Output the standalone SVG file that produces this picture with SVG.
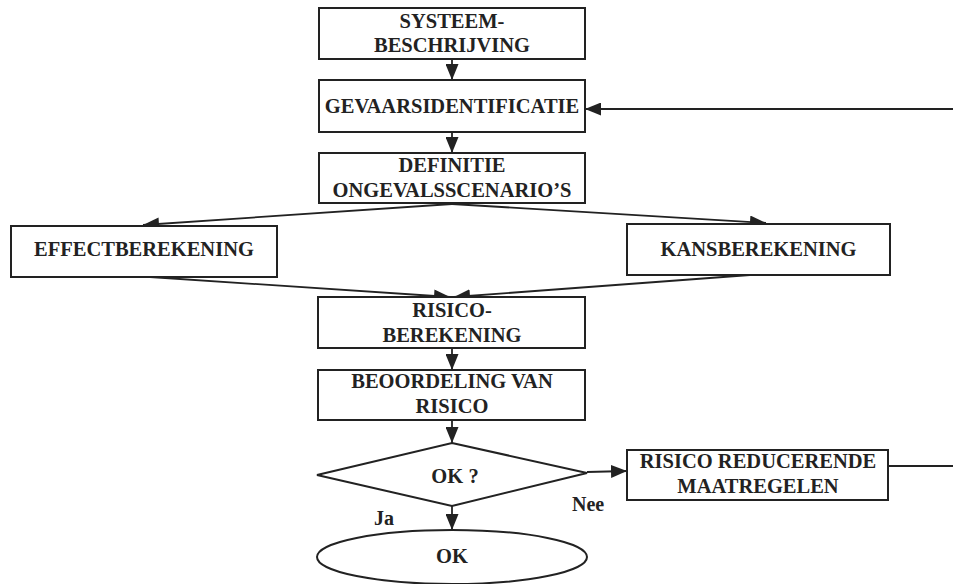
<svg xmlns="http://www.w3.org/2000/svg" width="953" height="584" viewBox="0 0 953 584">
<defs>
<style>
.box{fill:#fff;stroke:#222;stroke-width:2}
.t{font-family:"Liberation Serif","Times New Roman",serif;font-weight:bold;font-size:20.5px;fill:#222;text-anchor:middle}
.s{font-family:"Liberation Serif","Times New Roman",serif;font-weight:bold;font-size:20px;fill:#222}
.c{fill:none;stroke:#222;stroke-width:1.8}
</style>
<marker id="ah" markerUnits="userSpaceOnUse" markerWidth="17" markerHeight="13" refX="16" refY="6.5" orient="auto">
<path d="M0,0 L16,6.5 L0,13 Z" fill="#222"/>
</marker>
</defs>
<rect width="953" height="584" fill="#fff"/>
<g id="connectors">
<line class="c" x1="452" y1="59" x2="452" y2="80" marker-end="url(#ah)"/>
<line class="c" x1="452" y1="132" x2="452" y2="153" marker-end="url(#ah)"/>
<line class="c" x1="452" y1="204" x2="143" y2="225" marker-end="url(#ah)"/>
<line class="c" x1="452" y1="204" x2="766" y2="223" marker-end="url(#ah)"/>
<line class="c" x1="150" y1="277" x2="450" y2="297" marker-end="url(#ah)"/>
<line class="c" x1="750" y1="275" x2="454" y2="297" marker-end="url(#ah)"/>
<line class="c" x1="452" y1="348" x2="452" y2="370" marker-end="url(#ah)"/>
<line class="c" x1="452" y1="420" x2="452" y2="443" marker-end="url(#ah)"/>
<line class="c" x1="452" y1="506" x2="452" y2="530" marker-end="url(#ah)"/>
<line class="c" x1="587" y1="472" x2="627" y2="471" marker-end="url(#ah)"/>
<line class="c" x1="888" y1="466" x2="953" y2="466"/>
<line class="c" x1="953" y1="109" x2="585" y2="109" marker-end="url(#ah)"/>
</g>
<g id="systeembeschrijving">
<rect class="box" x="319" y="8" width="266" height="51"/>
<text class="t" x="452" y="28" font-family="Liberation Serif, serif">SYSTEEM-</text>
<text class="t" x="452" y="52" font-family="Liberation Serif, serif">BESCHRIJVING</text>
</g>
<g id="gevaarsidentificatie">
<rect class="box" x="319" y="80" width="266" height="52"/>
<text class="t" x="452" y="113" font-family="Liberation Serif, serif">GEVAARSIDENTIFICATIE</text>
</g>
<g id="definitie">
<rect class="box" x="319" y="153" width="266" height="50"/>
<text class="t" x="452" y="172" font-family="Liberation Serif, serif">DEFINITIE</text>
<text class="t" x="452" y="197" font-family="Liberation Serif, serif">ONGEVALSSCENARIO’S</text>
</g>
<g id="effectberekening">
<rect class="box" x="11" y="226" width="266" height="51"/>
<text class="t" x="144" y="256" font-family="Liberation Serif, serif">EFFECTBEREKENING</text>
</g>
<g id="kansberekening">
<rect class="box" x="627" y="224" width="263" height="51"/>
<text class="t" x="758.5" y="256" font-family="Liberation Serif, serif">KANSBEREKENING</text>
</g>
<g id="risicoberekening">
<rect class="box" x="318" y="297" width="267" height="51"/>
<text class="t" x="452" y="317" font-family="Liberation Serif, serif">RISICO-</text>
<text class="t" x="452" y="342" font-family="Liberation Serif, serif">BEREKENING</text>
</g>
<g id="beoordeling">
<rect class="box" x="318" y="370" width="267" height="50"/>
<text class="t" x="452" y="388" font-family="Liberation Serif, serif">BEOORDELING VAN</text>
<text class="t" x="452" y="413" font-family="Liberation Serif, serif">RISICO</text>
</g>
<g id="ok-vraag">
<polygon class="box" points="452,443 587,473 452,506 317,475"/>
<text class="t" x="455" y="483" font-family="Liberation Serif, serif">OK ?</text>
</g>
<g id="maatregelen">
<rect class="box" x="627" y="450" width="261" height="50"/>
<text class="t" x="758" y="468" font-family="Liberation Serif, serif">RISICO REDUCERENDE</text>
<text class="t" x="758" y="493" font-family="Liberation Serif, serif">MAATREGELEN</text>
</g>
<g id="ok">
<ellipse class="box" cx="452" cy="557" rx="135" ry="27"/>
<text class="t" x="452" y="563" font-family="Liberation Serif, serif">OK</text>
</g>
<g id="labels">
<text class="s" x="572" y="511" font-family="Liberation Serif, serif">Nee</text>
<text class="s" x="374" y="525" font-family="Liberation Serif, serif">Ja</text>
</g>
</svg>
